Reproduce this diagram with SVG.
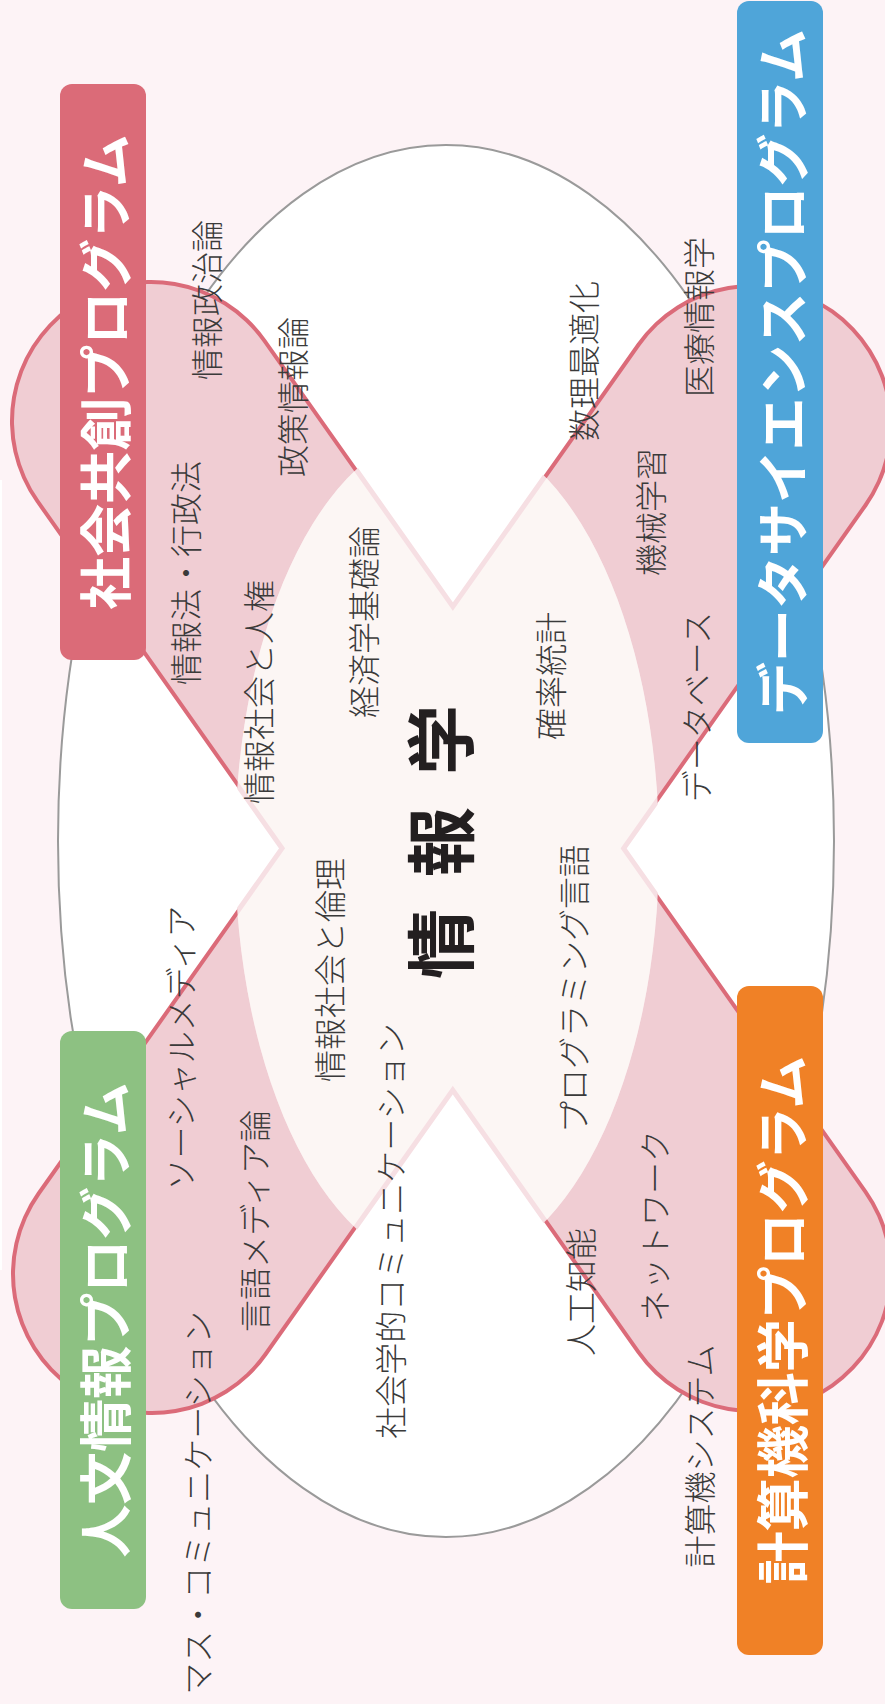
<svg xmlns="http://www.w3.org/2000/svg" width="885" height="1704" viewBox="0 0 885 1704">
<defs>
<style>
.lb{font-family:"Noto Sans CJK JP","Noto Sans CJK SC",sans-serif;font-size:32px;font-weight:300;fill:#3a3a3a;text-anchor:middle;dominant-baseline:central}
.bt{font-family:"Noto Sans CJK JP","Noto Sans CJK SC",sans-serif;font-size:53px;font-weight:700;fill:#ffffff;text-anchor:middle;dominant-baseline:central}
.ct{font-family:"Noto Sans CJK JP","Noto Sans CJK SC",sans-serif;font-size:70px;font-weight:700;fill:#231f20;text-anchor:middle;dominant-baseline:central;letter-spacing:32px}
.band{fill:none;stroke-linecap:round}
</style>
<clipPath id="lensClip"><ellipse cx="447" cy="849" rx="212" ry="420"/></clipPath>
</defs>
<rect width="885" height="1704" fill="#fdf3f6"/>
<rect x="0" y="480" width="2" height="790" fill="#ffffff"/>
<g id="outer-oval">
<ellipse cx="446" cy="841" rx="388" ry="696" fill="#ffffff" stroke="#9a9a9a" stroke-width="2"/>
</g>
<g id="cross">
<line class="band" x1="151" y1="421" x2="752" y2="1272" stroke="#db6b79" stroke-width="282"/>
<line class="band" x1="752" y1="425" x2="152" y2="1274" stroke="#db6b79" stroke-width="282"/>
<line class="band" x1="151" y1="421" x2="752" y2="1272" stroke="#f0cdd3" stroke-width="274"/>
<line class="band" x1="752" y1="425" x2="152" y2="1274" stroke="#f0cdd3" stroke-width="274"/>
</g>
<g id="lens" clip-path="url(#lensClip)">
<line class="band" x1="151" y1="421" x2="752" y2="1272" stroke="#f6dfe3" stroke-width="284"/>
<line class="band" x1="752" y1="425" x2="152" y2="1274" stroke="#f6dfe3" stroke-width="284"/>
<line class="band" x1="151" y1="421" x2="752" y2="1272" stroke="#fcf6f4" stroke-width="274"/>
<line class="band" x1="752" y1="425" x2="152" y2="1274" stroke="#fcf6f4" stroke-width="274"/>
</g>
<g id="labels">
<text class="lb" transform="translate(205,300) rotate(-90)">情報政治論</text>
<text class="lb" transform="translate(291,397) rotate(-90)">政策情報論</text>
<text class="lb" transform="translate(184,573) rotate(-90)">情報法・行政法</text>
<text class="lb" transform="translate(257,692) rotate(-90)">情報社会と人権</text>
<text class="lb" transform="translate(362,622) rotate(-90)">経済学基礎論</text>
<text class="lb" transform="translate(549,676) rotate(-90)">確率統計</text>
<text class="lb" transform="translate(582,361) rotate(-90)">数理最適化</text>
<text class="lb" transform="translate(697,317) rotate(-90)">医療情報学</text>
<text class="lb" transform="translate(649,512) rotate(-90)">機械学習</text>
<text class="lb" transform="translate(695,707) rotate(-90)">データベース</text>
<text class="lb" transform="translate(328,970) rotate(-90)">情報社会と倫理</text>
<text class="lb" transform="translate(572,989) rotate(-90)">プログラミング言語</text>
<text class="lb" transform="translate(179,1048) rotate(-90)">ソーシャルメディア</text>
<text class="lb" transform="translate(253,1221) rotate(-90)">言語メディア論</text>
<text class="lb" transform="translate(389,1231) rotate(-90)">社会学的コミュニケーション</text>
<text class="lb" transform="translate(196,1503) rotate(-90)">マス・コミュニケーション</text>
<text class="lb" transform="translate(653,1226) rotate(-90)">ネットワーク</text>
<text class="lb" transform="translate(579,1292) rotate(-90)">人工知能</text>
<text class="lb" transform="translate(698,1456) rotate(-90)">計算機システム</text>
</g>
<g id="center-title">
<text class="ct" transform="translate(437,826) rotate(-90)">情報学</text>
</g>
<g id="box-shakai">
<rect x="60" y="84" width="86" height="576" rx="12" fill="#db6b78"/>
<text class="bt" transform="translate(103,372) rotate(-90)">社会共創プログラム</text>
</g>
<g id="box-data">
<rect x="737" y="1" width="86" height="742" rx="12" fill="#4fa5d9"/>
<text class="bt" transform="translate(780,372) rotate(-90)">データサイエンスプログラム</text>
</g>
<g id="box-jinbun">
<rect x="60" y="1031" width="86" height="578" rx="12" fill="#8dc182"/>
<text class="bt" transform="translate(103,1320) rotate(-90)">人文情報プログラム</text>
</g>
<g id="box-keisan">
<rect x="737" y="986" width="86" height="669" rx="12" fill="#f08126"/>
<text class="bt" transform="translate(780,1320) rotate(-90)">計算機科学プログラム</text>
</g>
</svg>
